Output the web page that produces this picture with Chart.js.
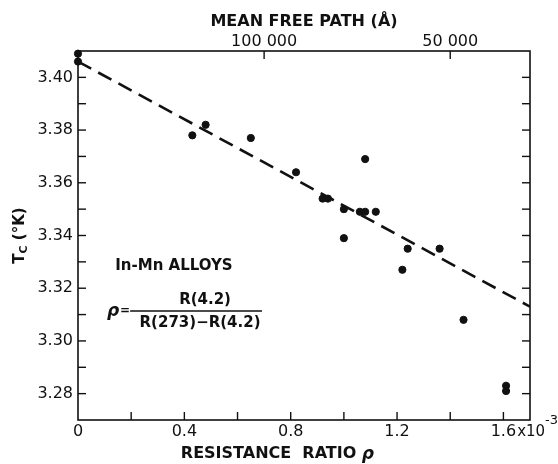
<!DOCTYPE html>
<html>
<head>
<meta charset="utf-8">
<script src="https://cdn.jsdelivr.net/npm/chart.js@4/dist/chart.umd.min.js"></script>
<style>
  html, body { margin: 0; padding: 0; background: #fff; }
  #wrap { width: 558px; height: 464px; }
</style>
</head>
<body>
<div id="wrap"><canvas id="chart" width="558" height="464"></canvas></div>
<script>
// resistance ratio rho (x 10^-3) and transition temperature Tc (K)
const rho = [0, 0, 0.43, 0.48, 0.65, 0.82, 0.92, 0.94, 1.0, 1.0, 1.06, 1.08, 1.08, 1.12, 1.22, 1.24, 1.36, 1.45, 1.61, 1.61];
const tc = [3.409, 3.406, 3.378, 3.382, 3.377, 3.364, 3.354, 3.354, 3.350, 3.339, 3.349, 3.349, 3.369, 3.349, 3.327, 3.335, 3.335, 3.308, 3.283, 3.281];

// dashed trend line
const fitRho = [0, 1.7];
const fitTc = [3.406, 3.313];

// axis ticks
const rhoTicks = [0, 0.4, 0.8, 1.2, 1.6];
const rhoMinor = [0.2, 0.6, 1.0, 1.4];
const tcTicks = [3.28, 3.30, 3.32, 3.34, 3.36, 3.38, 3.40];
const tcMinor = [3.29, 3.31, 3.33, 3.35, 3.37, 3.39];
const mfpTicks = [100000, 50000];
const MFP_RHO = 70000; // mean free path (A) * rho (10^-3)

const FONT = '"DejaVu Sans", sans-serif';
const INK = '#111';

function fmtMfp(v) {
  return String(v).replace(/\B(?=(\d{3})+(?!\d))/g, ' ');
}

const framePlugin = {
  id: 'frame',
  afterDraw(chart) {
    const { ctx, chartArea: a, scales } = chart;
    ctx.save();
    ctx.strokeStyle = INK;
    ctx.lineWidth = 1.6;
    ctx.strokeRect(a.left, a.top, a.right - a.left, a.bottom - a.top);

    const seg = (x1, y1, x2, y2) => {
      ctx.beginPath(); ctx.moveTo(x1, y1); ctx.lineTo(x2, y2); ctx.stroke();
    };
    ctx.lineWidth = 1.4;
    tcTicks.concat(tcMinor).forEach((v) => {
      const py = scales.y.getPixelForValue(v);
      seg(a.left, py, a.left + 8, py);
      seg(a.right, py, a.right - 8, py);
    });
    rhoTicks.concat(rhoMinor).forEach((v) => {
      if (v === 0) return;
      const px = scales.x.getPixelForValue(v);
      seg(px, a.bottom, px, a.bottom - 8);
    });
    mfpTicks.forEach((l) => {
      const px = scales.x2.getPixelForValue(MFP_RHO / l);
      seg(px, a.top, px, a.top + 8);
    });

    ctx.fillStyle = INK;
    ctx.textBaseline = 'middle';
    ctx.textAlign = 'left';

    // x10^-3 after the last bottom label
    const px16 = scales.x.getPixelForValue(1.6);
    ctx.font = '16px ' + FONT;
    const w16 = ctx.measureText('1.6').width;
    const xs = px16 + w16 / 2;
    const ly = a.bottom + 12;
    ctx.font = '15px ' + FONT;
    ctx.fillText('x10', xs + 1, ly);
    const wx = ctx.measureText('x10').width;
    ctx.font = '13px ' + FONT;
    ctx.fillText('-3', xs + wx + 1, a.bottom + 1);

    // x axis title
    ctx.font = 'bold 16px ' + FONT;
    const t1 = 'RESISTANCE  RATIO ';
    const t1w = ctx.measureText(t1).width;
    ctx.font = 'italic bold 17px ' + FONT;
    const rw = ctx.measureText('\u03c1').width;
    const tx0 = scales.x.getPixelForValue(0.75) - (t1w + rw) / 2;
    ctx.font = 'bold 16px ' + FONT;
    ctx.fillText(t1, tx0, a.bottom + 34);
    ctx.font = 'italic bold 17px ' + FONT;
    ctx.fillText('\u03c1', tx0 + t1w, a.bottom + 35);

    // y axis title Tc (°K)
    ctx.save();
    ctx.translate(a.left - 58, scales.y.getPixelForValue(3.34));
    ctx.rotate(-Math.PI / 2);
    ctx.font = 'bold 15px ' + FONT;
    const tW = ctx.measureText('T').width;
    ctx.font = 'bold 11px ' + FONT;
    const cW = ctx.measureText('C').width;
    ctx.font = 'bold 15px ' + FONT;
    const rest = ' (°K)';
    const rW = ctx.measureText(rest).width;
    const x0 = -(tW + cW + rW) / 2;
    ctx.fillText('T', x0, 0);
    ctx.font = 'bold 11px ' + FONT;
    ctx.fillText('C', x0 + tW, 4);
    ctx.font = 'bold 15px ' + FONT;
    ctx.fillText(rest, x0 + tW + cW, 0);
    ctx.restore();

    // annotations
    ctx.font = 'bold 15px ' + FONT;
    ctx.fillText('In-Mn ALLOYS', scales.x.getPixelForValue(0.14), scales.y.getPixelForValue(3.3285));

    const barY = scales.y.getPixelForValue(3.3114);
    const barL = scales.x.getPixelForValue(0.196);
    const barR = scales.x.getPixelForValue(0.692);
    ctx.font = 'italic bold 17px ' + FONT;
    ctx.fillText('\u03c1', barL - 23, barY + 1);
    ctx.font = 'bold 12px ' + FONT;
    ctx.fillText('=', barL - 10, barY);
    ctx.lineWidth = 1.5;
    seg(barL, barY, barR, barY);
    ctx.font = 'bold 15px ' + FONT;
    ctx.textAlign = 'center';
    ctx.fillText('R(4.2)', (barL + barR) / 2 + 9, barY - 11);
    ctx.fillText('R(273)\u2212R(4.2)', (barL + barR) / 2 + 4, barY + 12);
    ctx.restore();
  }
};

new Chart(document.getElementById('chart'), {
  type: 'scatter',
  data: {
    datasets: [
      {
        label: 'fit',
        type: 'line',
        data: fitRho.map((x, i) => ({ x, y: fitTc[i] })),
        borderColor: INK,
        borderWidth: 2.6,
        borderDash: [15, 8],
        pointRadius: 0,
        fill: false,
      },
      {
        label: 'In-Mn',
        data: rho.map((x, i) => ({ x, y: tc[i] })),
        backgroundColor: INK,
        borderColor: INK,
        pointRadius: 3.6,
        clip: false,
      },
    ],
  },
  options: {
    responsive: false,
    animation: false,
    layout: { padding: { left: 0, right: 28, top: 0, bottom: 0 } },
    plugins: { legend: { display: false }, tooltip: { enabled: false } },
    scales: {
      x: {
        type: 'linear',
        position: 'bottom',
        min: 0,
        max: 1.7,
        afterBuildTicks: (s) => { s.ticks = rhoTicks.map((v) => ({ value: v })); },
        afterFit: (s) => { s.height = 44; },
        grid: { display: false, drawTicks: false },
        border: { display: false },
        ticks: {
          color: INK,
          font: { family: FONT, size: 16 },
          padding: 2,
          maxRotation: 0,
          callback: (v) => (v === 0 ? '0' : v.toFixed(1)),
        },
      },
      x2: {
        type: 'linear',
        position: 'top',
        min: 0,
        max: 1.7,
        afterBuildTicks: (s) => { s.ticks = mfpTicks.map((l) => ({ value: MFP_RHO / l })); },
        afterFit: (s) => { s.height = 51; },
        grid: { display: false, drawTicks: false },
        border: { display: false },
        ticks: {
          color: INK,
          font: { family: FONT, size: 16 },
          padding: 0,
          maxRotation: 0,
          callback: (v) => fmtMfp(Math.round(MFP_RHO / v)),
        },
        title: {
          display: true,
          text: 'MEAN FREE PATH (\u00c5)',
          color: INK,
          font: { family: FONT, size: 16, weight: 'bold' },
          padding: { top: 12, bottom: 0 },
        },
      },
      y: {
        type: 'linear',
        position: 'left',
        min: 3.27,
        max: 3.41,
        afterBuildTicks: (s) => { s.ticks = tcTicks.map((v) => ({ value: v })); },
        afterFit: (s) => { s.width = 78; },
        grid: { display: false, drawTicks: false },
        border: { display: false },
        ticks: {
          color: INK,
          font: { family: FONT, size: 16 },
          padding: 5,
          callback: (v) => v.toFixed(2),
        },
      },
    },
  },
  plugins: [framePlugin],
});
</script>
</body>
</html>
